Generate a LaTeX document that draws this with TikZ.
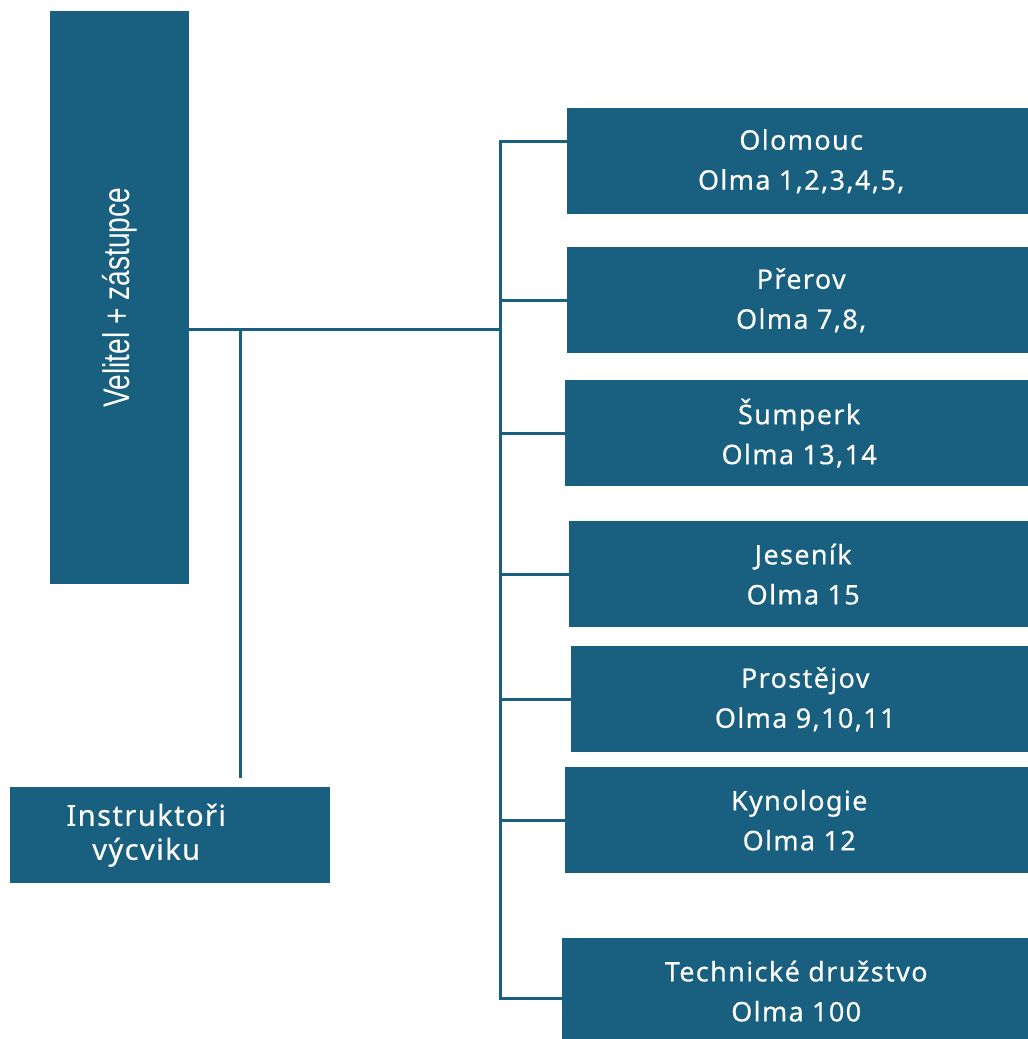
\documentclass[tikz,border=0pt]{standalone}
\usepackage{fontspec}
\setmainfont{Noto Sans}[LetterSpace=5, FakeBold=0.4]
\newfontfamily\condfont[FakeStretch=0.76]{Liberation Sans}
\usepackage{tikz}
\usetikzlibrary{calc}

\definecolor{boxblue}{HTML}{185F80}

\tikzset{
	unit/.style={fill=boxblue, text=white, anchor=north west, align=center,
		inner sep=0pt, minimum width=468pt, minimum height=106pt,
		font=\fontsize{27}{40}\selectfont},
	link/.style={draw=boxblue, line width=3pt}
}

\begin{document}
\begin{tikzpicture}[x=1pt, y=-1pt]
	\useasboundingbox (0,0) rectangle (1028,1039);

	% velitel a instruktori
	\node[unit, minimum width=139pt, minimum height=573pt] (velitel) at (50,11)
	{\condfont\fontsize{37}{37}\selectfont\rotatebox{90}{Velitel + zástupce}};
	\node[unit, minimum width=320pt, minimum height=96pt] (instr) at (10,787) {};
	\node[text=white, align=center, font=\fontsize{29}{34}\selectfont] (instrtext)
	at ([xshift=-24pt]instr.center) {Instruktoři\\výcviku};

	% jednotky
	\node[unit] (olomouc) at (567,108) {Olomouc\\Olma 1,2,3,4,5,};
	\node[unit] (prerov) at (567,247) {Přerov\\Olma 7,8,};
	\node[unit] (sumperk) at (565,380) {Šumperk\\Olma 13,14};
	\node[unit] (jesenik) at (569,521) {Jeseník\\Olma 15};
	\node[unit] (prostejov) at (571,646) {Prostějov\\Olma 9,10,11};
	\node[unit] (kynologie) at (565,767) {Kynologie\\Olma 12};
	\node[unit] (technicke) at (562,938) {Technické družstvo\\Olma 100};

	\coordinate (hub) at (500,329);
	\coordinate (drop) at (240,329);
	\coordinate (dropend) at (240,778);

	\draw[link] (velitel.east |- hub) -- (hub);
	\draw[link] (drop) -- (dropend);
	\draw[link] ([yshift=20pt]olomouc.west) -| (hub) |- ([yshift=-7pt]technicke.west);
	\foreach \u in {prerov, sumperk, jesenik, prostejov, kynologie}
	\draw[link] (\u.west) -- (\u.west -| hub);
\end{tikzpicture}
\end{document}
